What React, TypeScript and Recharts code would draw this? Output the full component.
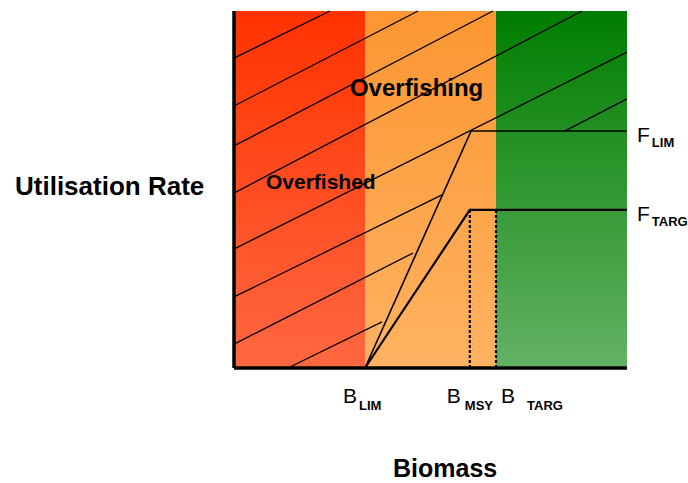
import React from "react";
import {
  LineChart,
  Line,
  XAxis,
  YAxis,
  ReferenceArea,
  ReferenceLine,
  ReferenceDot,
} from "recharts";

// biomass reference points (x) and fishing rates (y), normalised units
const bandEdges = [0, 1, 2, 3];
const bandFills = ["url(#gRed)", "url(#gOrange)", "url(#gGreen)"];

const bPoints = [1, 1.8, 2];
const bNames = ["LIM", "MSY", "TARG"];
const fPoints = [0.664, 0.443];
const fNames = ["LIM", "TARG"];

const fLimPath = [
  { x: 1, y: 0 },
  { x: 1.81, y: 0.664 },
  { x: 3, y: 0.664 },
];
const fTargPath = [
  { x: 1, y: 0 },
  { x: 1.8, y: 0.443 },
  { x: 3, y: 0.443 },
];

// hatching: [x1, y1, x2, y2]
const hatchLines = [
  [0, 0.868, 0.733, 1],
  [0, 0.734, 1.405, 1],
  [0, 0.622, 1.977, 1],
  [0, 0.49, 2.656, 1],
  [0, 0.333, 3, 0.885],
  [0, 0.199, 1.588, 0.485],
  [2.527, 0.664, 3, 0.754],
  [0, 0.067, 1.366, 0.322],
  [0.412, 0, 1.13, 0.129],
];

const zoneLabels = [
  { text: "Overfishing", x: 0.885, y: 0.762, size: 24 },
  { text: "Overfished", x: 0.244, y: 0.501, size: 21 },
];

const FONT = '"Liberation Sans", Arial, sans-serif';

// horizontal offsets for each B label (start of "B", gap before subscript)
const bOffsets = [
  [-22, 2],
  [-23, 4],
  [5, 12],
];

export default function App() {
  return (
    <div
      style={{
        position: "absolute",
        left: 0,
        top: 0,
        width: 688,
        height: 483,
        fontFamily: FONT,
        overflow: "hidden",
      }}
    >
      <LineChart
        width={688}
        height={483}
        margin={{ top: 11, right: 61, bottom: 114, left: 224 }}
      >
        <defs>
          <linearGradient id="gRed" x1="0" y1="0" x2="0" y2="1">
            <stop offset="0%" stopColor="#FF3200" />
            <stop offset="100%" stopColor="#FF6842" />
          </linearGradient>
          <linearGradient id="gOrange" x1="0" y1="0" x2="0" y2="1">
            <stop offset="0%" stopColor="#FC9632" />
            <stop offset="100%" stopColor="#FFB262" />
          </linearGradient>
          <linearGradient id="gGreen" x1="0" y1="0" x2="0" y2="1">
            <stop offset="0%" stopColor="#007D00" />
            <stop offset="100%" stopColor="#64B264" />
          </linearGradient>
        </defs>
        <XAxis
          type="number"
          dataKey="x"
          domain={[0, 3]}
          ticks={[]}
          tick={false}
          tickLine={false}
          axisLine={{ stroke: "#000", strokeWidth: 3.5 }}
          height={1}
        />
        <YAxis
          type="number"
          domain={[0, 1]}
          ticks={[]}
          tick={false}
          tickLine={false}
          axisLine={{ stroke: "#000", strokeWidth: 3.5 }}
          width={10}
        />
        {bandFills.map((f, i) => (
          <ReferenceArea
            key={i}
            x1={bandEdges[i]}
            x2={bandEdges[i + 1]}
            y1={0}
            y2={1}
            fill={f}
            fillOpacity={1}
            stroke="none"
          />
        ))}
        {hatchLines.map((h, i) => (
          <ReferenceLine
            key={"h" + i}
            segment={[
              { x: h[0], y: h[1] },
              { x: h[2], y: h[3] },
            ]}
            stroke="#000"
            strokeWidth={1.3}
          />
        ))}
        {[bPoints[1], bPoints[2]].map((b, i) => (
          <ReferenceLine
            key={"d" + i}
            segment={[
              { x: b, y: 0 },
              { x: b, y: fPoints[1] },
            ]}
            stroke="#000"
            strokeWidth={2.2}
            strokeDasharray="3 2"
          />
        ))}
        <Line
          data={fLimPath}
          dataKey="y"
          type="linear"
          stroke="#000"
          strokeWidth={1.6}
          dot={false}
          activeDot={false}
          isAnimationActive={false}
        />
        <Line
          data={fTargPath}
          dataKey="y"
          type="linear"
          stroke="#000"
          strokeWidth={2.2}
          dot={false}
          activeDot={false}
          isAnimationActive={false}
        />
        {zoneLabels.map((z) => (
          <ReferenceDot
            key={z.text}
            x={z.x}
            y={z.y}
            shape={(p: any) => (
              <text
                x={p.cx}
                y={p.cy}
                fontFamily={FONT}
                fontWeight="bold"
                fontSize={z.size}
                fill="#000"
              >
                {z.text}
              </text>
            )}
          />
        ))}
        {bPoints.map((b, i) => (
          <ReferenceDot
            key={"b" + i}
            x={b}
            y={0}
            shape={(p: any) => (
              <text x={p.cx + bOffsets[i][0]} y={p.cy + 35} fontFamily={FONT} fill="#000">
                <tspan fontSize={21}>B</tspan>
                <tspan dx={bOffsets[i][1]} dy={7} fontSize={13} fontWeight="bold">
                  {bNames[i]}
                </tspan>
              </text>
            )}
          />
        ))}
        {fPoints.map((f, i) => (
          <ReferenceDot
            key={"f" + i}
            x={3}
            y={f}
            shape={(p: any) => (
              <text x={p.cx + 10} y={p.cy + 11} fontFamily={FONT} fill="#000">
                <tspan fontSize={21}>F</tspan>
                <tspan dx={2} dy={5} fontSize={13} fontWeight="bold">
                  {fNames[i]}
                </tspan>
              </text>
            )}
          />
        ))}
      </LineChart>
      <div
        style={{
          position: "absolute",
          left: 15,
          top: 173,
          fontSize: 26,
          lineHeight: 1,
          fontWeight: "bold",
          whiteSpace: "nowrap",
        }}
      >
        Utilisation Rate
      </div>
      <div
        style={{
          position: "absolute",
          left: 393,
          top: 456,
          fontSize: 25,
          lineHeight: 1,
          fontWeight: "bold",
          whiteSpace: "nowrap",
        }}
      >
        Biomass
      </div>
    </div>
  );
}
